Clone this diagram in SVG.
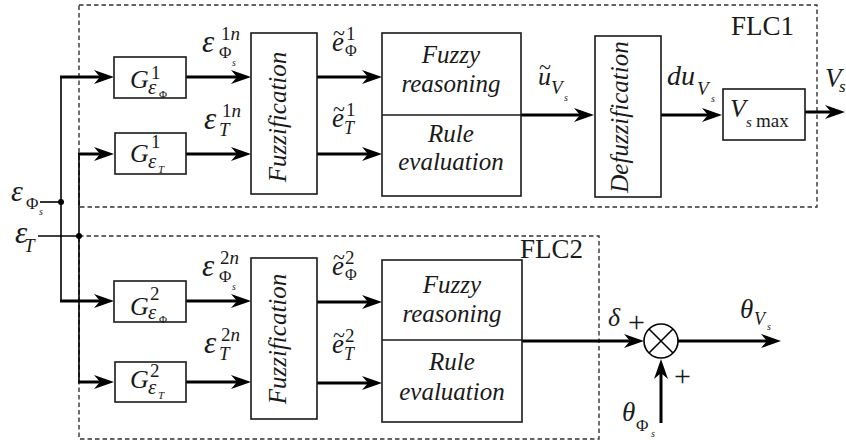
<svg xmlns="http://www.w3.org/2000/svg" width="846" height="442" viewBox="0 0 846 442" font-family="'Liberation Serif', 'Times New Roman', serif">
<defs>
<style>
.box{fill:#fff;stroke:#1a1a1a;stroke-width:1.6}
.frame{fill:none;stroke:#333;stroke-width:1.4;stroke-dasharray:4.5 3}
.w{fill:none;stroke:#000;stroke-width:3}
.n{fill:none;stroke:#000;stroke-width:1.6}
.a{marker-end:url(#ah)}
text{fill:#1a1a1a}
.i{font-style:italic}
.blk{font-size:25px;font-style:italic;text-anchor:middle}
</style>
<marker id="ah" markerUnits="userSpaceOnUse" markerWidth="20" markerHeight="14" viewBox="0 0 20 14" refX="12" refY="7" orient="auto">
<path d="M0,0 L20,7 L0,14 L6,7 z" fill="#000"/>
</marker>
</defs>
<rect width="846" height="442" fill="#fff"/>

<!-- controller frames -->
<g id="flc1">
<rect class="frame" x="79" y="5" width="738" height="202"/>
<text x="731" y="35" font-size="27">FLC1</text>
</g>
<g id="flc2">
<rect class="frame" x="79" y="236" width="520" height="203"/>
<text x="520" y="258" font-size="27">FLC2</text>
</g>

<!-- connectors -->
<g id="connectors">
<!-- input buses -->
<line class="n" x1="40" y1="202" x2="61" y2="202"/>
<line class="n" x1="61" y1="76" x2="61" y2="302"/>
<circle cx="61" cy="202" r="3" fill="#000"/>
<line class="n" x1="38" y1="236" x2="79" y2="236"/>
<line class="n" x1="79" y1="153" x2="79" y2="383"/>
<circle cx="79" cy="236" r="3" fill="#000"/>
<line class="w a" x1="60" y1="77" x2="106" y2="77"/>
<line class="w a" x1="78" y1="154" x2="106" y2="154"/>
<line class="w a" x1="60" y1="301" x2="106" y2="301"/>
<line class="w a" x1="78" y1="382" x2="106" y2="382"/>
<!-- gains to fuzzification -->
<line class="w a" x1="186" y1="77" x2="243" y2="77"/>
<line class="w a" x1="186" y1="154" x2="243" y2="154"/>
<line class="w a" x1="186" y1="301" x2="243" y2="301"/>
<line class="w a" x1="186" y1="382" x2="243" y2="382"/>
<!-- fuzzification to inference -->
<line class="w a" x1="317" y1="77" x2="374" y2="77"/>
<line class="w a" x1="317" y1="154" x2="374" y2="154"/>
<line class="w a" x1="317" y1="302" x2="374" y2="302"/>
<line class="w a" x1="317" y1="383" x2="374" y2="383"/>
<!-- FLC1 output chain -->
<line class="w a" x1="521" y1="115" x2="586" y2="115"/>
<line class="w a" x1="661" y1="115" x2="714" y2="115"/>
<line class="w a" x1="805" y1="112" x2="837" y2="112"/>
<!-- FLC2 output and summing -->
<line class="w a" x1="522" y1="341" x2="636" y2="341"/>
<line class="w a" x1="678" y1="341" x2="773" y2="341"/>
<line class="w a" x1="661" y1="423" x2="661" y2="367"/>
</g>

<!-- gain blocks -->
<g id="g1phi">
<rect class="box" x="114" y="57" width="72" height="41"/>
<text class="i" x="130" y="88" font-size="26">G</text>
<text x="151" y="79" font-size="19">1</text>
<text class="i" x="148" y="94" font-size="21">ε</text>
<text x="159" y="98" font-size="11">Φ</text>
</g>
<g id="g1t">
<rect class="box" x="115" y="133" width="71" height="41"/>
<text class="i" x="130" y="162" font-size="26">G</text>
<text x="151" y="148" font-size="19">1</text>
<text class="i" x="148" y="168" font-size="21">ε</text>
<text class="i" x="158" y="173" font-size="11">T</text>
</g>
<g id="g2phi">
<rect class="box" x="114" y="281" width="72" height="41"/>
<text class="i" x="130" y="315" font-size="26">G</text>
<text x="150" y="300" font-size="19">2</text>
<text class="i" x="148" y="319" font-size="21">ε</text>
<text x="159" y="323" font-size="11">Φ</text>
</g>
<g id="g2t">
<rect class="box" x="115" y="362" width="71" height="40"/>
<text class="i" x="130" y="388" font-size="26">G</text>
<text x="150" y="377" font-size="19">2</text>
<text class="i" x="148" y="394" font-size="21">ε</text>
<text class="i" x="158" y="399" font-size="11">T</text>
</g>

<!-- fuzzification blocks -->
<g id="fuzz1">
<rect class="box" x="251" y="33" width="66" height="161"/>
<text class="blk" transform="translate(286,117) rotate(-90)">Fuzzification</text>
</g>
<g id="fuzz2">
<rect class="box" x="251" y="258" width="66" height="161"/>
<text class="blk" transform="translate(286,339) rotate(-90)">Fuzzification</text>
</g>

<!-- inference blocks -->
<g id="rule1">
<rect class="box" x="382" y="33" width="139" height="163"/>
<line class="box" x1="382" y1="115" x2="521" y2="115"/>
<text class="blk" x="451" y="63">Fuzzy</text>
<text class="blk" x="451" y="92">reasoning</text>
<text class="blk" x="451" y="142">Rule</text>
<text class="blk" x="451" y="170">evaluation</text>
</g>
<g id="rule2">
<rect class="box" x="382" y="260" width="140" height="162"/>
<line class="box" x1="382" y1="340" x2="522" y2="340"/>
<text class="blk" x="452" y="293">Fuzzy</text>
<text class="blk" x="452" y="322">reasoning</text>
<text class="blk" x="452" y="370">Rule</text>
<text class="blk" x="452" y="400">evaluation</text>
</g>

<!-- defuzzification and scaling -->
<g id="defuzz1">
<rect class="box" x="595" y="36" width="66" height="161"/>
<text class="blk" transform="translate(628,117) rotate(-90)">Defuzzification</text>
</g>
<g id="vsmax">
<rect class="box" x="723" y="89" width="82" height="51"/>
<text class="i" x="730" y="117" font-size="26">V</text>
<text class="i" x="746" y="127" font-size="15">s</text>
<text x="756" y="127" font-size="19">max</text>
</g>

<!-- summing junction -->
<g id="sum">
<circle cx="661" cy="341" r="17" fill="#fff" stroke="#000" stroke-width="1.6"/>
<path d="M649,329 L673,353 M673,329 L649,353" stroke="#000" stroke-width="1.6"/>
</g>

<!-- signal labels -->
<g id="labels">
<text class="i" x="11" y="201" font-size="30">ε</text>
<text x="26" y="209" font-size="17">Φ</text>
<text class="i" x="39" y="215" font-size="10">s</text>
<text class="i" x="15" y="243" font-size="31">ε</text>
<text class="i" x="24" y="252" font-size="19">T</text>

<text class="i" x="202" y="52" font-size="31">ε</text>
<text x="221" y="40" font-size="19">1<tspan class="i">n</tspan></text>
<text x="219" y="58" font-size="17">Φ</text>
<text class="i" x="232" y="66" font-size="10">s</text>
<text class="i" x="204" y="129" font-size="31">ε</text>
<text x="222" y="117" font-size="19">1<tspan class="i">n</tspan></text>
<text class="i" x="219" y="136" font-size="19">T</text>

<text class="i" x="202" y="276" font-size="31">ε</text>
<text x="220" y="264" font-size="19">2<tspan class="i">n</tspan></text>
<text x="219" y="282" font-size="17">Φ</text>
<text class="i" x="232" y="290" font-size="10">s</text>
<text class="i" x="204" y="353" font-size="31">ε</text>
<text x="221" y="341" font-size="19">2<tspan class="i">n</tspan></text>
<text class="i" x="219" y="360" font-size="19">T</text>

<text x="333" y="40" font-size="22">~</text>
<text class="i" x="332" y="51" font-size="27">e</text>
<text x="346" y="40" font-size="19">1</text>
<text x="345" y="56" font-size="16">Φ</text>
<text x="333" y="116" font-size="22">~</text>
<text class="i" x="332" y="127" font-size="27">e</text>
<text x="346" y="116" font-size="19">1</text>
<text class="i" x="344" y="134" font-size="18">T</text>

<text x="333" y="264" font-size="22">~</text>
<text class="i" x="332" y="275" font-size="27">e</text>
<text x="345" y="264" font-size="19">2</text>
<text x="345" y="280" font-size="16">Φ</text>
<text x="333" y="342" font-size="22">~</text>
<text class="i" x="332" y="353" font-size="27">e</text>
<text x="345" y="342" font-size="19">2</text>
<text class="i" x="344" y="360" font-size="18">T</text>

<text x="539" y="74" font-size="22">~</text>
<text class="i" x="538" y="85" font-size="26">u</text>
<text class="i" x="551" y="94" font-size="19">V</text>
<text class="i" x="564" y="101" font-size="10">s</text>

<text class="i" x="667" y="85" font-size="28">du</text>
<text class="i" x="697" y="95" font-size="19">V</text>
<text class="i" x="711" y="102" font-size="10">s</text>

<text class="i" x="825" y="87" font-size="27">V</text>
<text class="i" x="839" y="92" font-size="17">s</text>

<text class="i" x="608" y="326" font-size="26">δ</text>
<text x="628" y="332" font-size="30">+</text>
<text x="674" y="386" font-size="30">+</text>

<text class="i" x="622" y="421" font-size="27">θ</text>
<text x="636" y="431" font-size="17">Φ</text>
<text class="i" x="651" y="437" font-size="10">s</text>
<text class="i" x="740" y="318" font-size="27">θ</text>
<text class="i" x="754" y="325" font-size="18">V</text>
<text class="i" x="767" y="330" font-size="10">s</text>
</g>
</svg>
